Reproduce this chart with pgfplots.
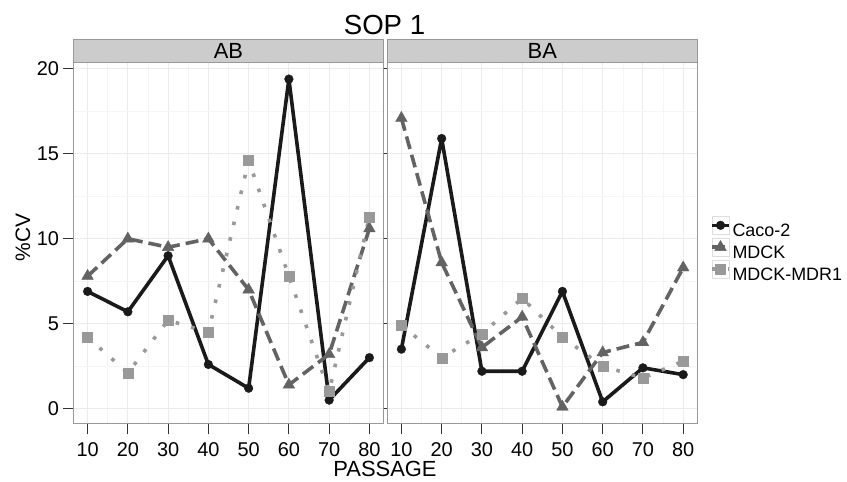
\documentclass[border=0pt]{standalone}
\usepackage{fontspec}
\setmainfont{Liberation Sans}
\usepackage{pgfplots}
\usepackage{pgfplotstable}
\pgfplotsset{compat=1.18}

\definecolor{cacoC}{HTML}{1A1A1A}
\definecolor{mdckC}{HTML}{636363}
\definecolor{mdrC}{HTML}{999999}
\definecolor{frameC}{HTML}{999999}
\definecolor{majgrid}{HTML}{EBEBEB}
\definecolor{mingrid}{HTML}{F5F5F5}
\definecolor{stripC}{HTML}{CCCCCC}
\definecolor{tickC}{HTML}{333333}
\definecolor{keyC}{HTML}{DDDDDD}

% %CV by passage, apical-to-basolateral direction
\pgfplotstableread{
p  caco  mdck  mdr
10  6.9   7.8   4.2
20  5.7  10.0   2.1
30  9.0   9.5   5.2
40  2.6  10.0   4.5
50  1.2   7.0  14.6
60 19.4   1.4   7.8
70  0.5   3.2   1.0
80  3.0  10.6  11.3
}\ABdata

% %CV by passage, basolateral-to-apical direction
\pgfplotstableread{
p  caco  mdck  mdr
10  3.5  17.1   4.9
20 15.9   8.6   3.0
30  2.2   3.6   4.4
40  2.2   5.4   6.5
50  6.9   0.1   4.2
60  0.4   3.3   2.5
70  2.4   3.9   1.8
80  2.0   8.3   2.8
}\BAdata

\pgfplotsset{
  cacoline/.style={cacoC, line width=3.6bp, solid, line join=round},
  mdckline/.style={mdckC, line width=3.6bp, dash pattern=on 13bp off 6bp, line join=round},
  mdrline/.style={mdrC, line width=3.6bp, dash pattern=on 3.6bp off 12.4bp, line join=round},
  cacomark/.style={mark=*, mark size=4.4bp, mark options={solid, cacoC, fill=cacoC, line width=0.3bp}},
  mdckmark/.style={mark=triangle*, mark size=6.8bp, mark options={solid, mdckC, fill=mdckC, line width=0.3bp}},
  mdrmark/.style={mark=square*, mark size=5bp, mark options={solid, mdrC, fill=mdrC, line width=0.3bp}},
  panel/.style={
    scale only axis, width=310bp, height=360.6bp, anchor=south west,
    xmin=6.5, xmax=83.5, ymin=-0.865, ymax=20.365,
    xtick={10,20,...,80}, ytick={0,5,...,20},
    minor xtick={15,25,...,75}, minor ytick={2.5,7.5,12.5,17.5},
    grid=both,
    major grid style={majgrid, line width=1bp},
    minor grid style={mingrid, line width=0.6bp},
    axis line style={frameC, line width=1bp},
    tick align=outside, major tick length=11bp, minor tick length=0pt,
    xtick style={tickC, line width=1bp},
    every tick label/.append style={font=\fontsize{20}{24}\selectfont, text=black},
    xticklabel style={yshift=-5bp},
    /pgf/number format/assume math mode=true,
  },
}

\begin{document}
\begin{tikzpicture}
\useasboundingbox (0,0) rectangle (847bp,482bp);

\begin{axis}[panel, name=AB, at={(73.5bp,58.7bp)},
  ytick style={tickC, line width=1bp}]
  \addplot[cacoline, forget plot] table[x=p, y=caco] {\ABdata};
  \addplot[mdckline, forget plot] table[x=p, y=mdck] {\ABdata};
  \addplot[mdrline, forget plot] table[x=p, y=mdr] {\ABdata};
  \addplot[only marks, cacomark, forget plot] table[x=p, y=caco] {\ABdata};
  \addplot[only marks, mdckmark, forget plot] table[x=p, y=mdck] {\ABdata};
  \addplot[only marks, mdrmark, forget plot] table[x=p, y=mdr] {\ABdata};
\end{axis}

\begin{axis}[panel, name=BA, at={(387.3bp,58.7bp)},
  yticklabels={}, ytick style={draw opacity=0},
  legend image code/.code={
    \draw[keyC, line width=0.6bp, fill=white, solid] (0bp,-2.3bp) rectangle (17.4bp,15.1bp);
    \draw[mark repeat=2, mark phase=2, #1] plot coordinates {(0bp,6.4bp) (8.7bp,6.4bp) (17.4bp,6.4bp)};
  },
  legend style={at={(1.041,0.574)}, anchor=north west, draw=none, fill=none,
    inner sep=0pt, outer sep=0pt, row sep=0pt, column sep=0pt,
    font=\fontsize{18}{20}\selectfont,
    nodes={inner xsep=1.5bp, inner ysep=0pt, text height=11bp, text depth=2bp}},
  legend cell align=left]
  \addplot[cacoline, forget plot] table[x=p, y=caco] {\BAdata};
  \addplot[mdckline, forget plot] table[x=p, y=mdck] {\BAdata};
  \addplot[mdrline, forget plot] table[x=p, y=mdr] {\BAdata};
  \addplot[only marks, cacomark, forget plot] table[x=p, y=caco] {\BAdata};
  \addplot[only marks, mdckmark, forget plot] table[x=p, y=mdck] {\BAdata};
  \addplot[only marks, mdrmark, forget plot] table[x=p, y=mdr] {\BAdata};
  \addlegendimage{cacoline, cacomark}
  \addlegendimage{mdckline, mdckmark}
  \addlegendimage{mdrline, mdrmark}
  \legend{Caco-2, MDCK, MDCK-MDR1}
\end{axis}

% facet strips
\draw[fill=stripC, draw=frameC, line width=1bp] (AB.north west) rectangle ([yshift=22.7bp]AB.north east);
\node[font=\fontsize{22}{26}\selectfont] at ([yshift=11.35bp]AB.north) {AB};
\draw[fill=stripC, draw=frameC, line width=1bp] (BA.north west) rectangle ([yshift=22.7bp]BA.north east);
\node[font=\fontsize{22}{26}\selectfont] at ([yshift=11.35bp]BA.north) {BA};

% titles
\node[font=\fontsize{27.7}{30}\selectfont, anchor=base] at (384.5bp,447bp) {SOP 1};
\node[font=\fontsize{22}{26}\selectfont, anchor=base] at (385bp,5.3bp) {PASSAGE};
\node[font=\fontsize{21}{24}\selectfont, rotate=90, anchor=base] at (30bp,244.5bp) {\%CV};
\end{tikzpicture}
\end{document}
